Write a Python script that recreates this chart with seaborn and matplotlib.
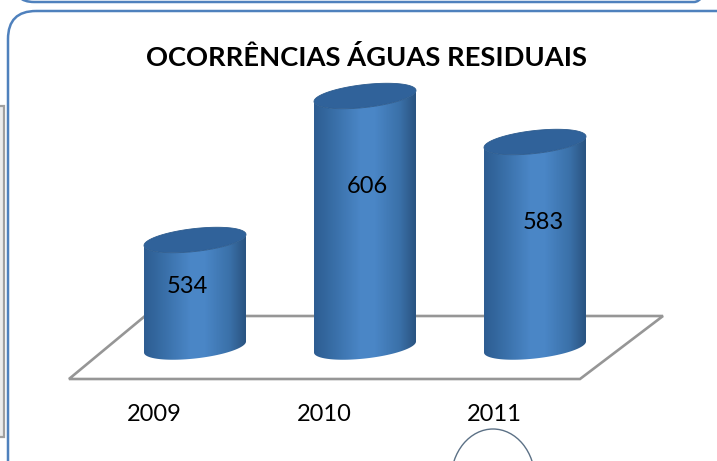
import matplotlib
matplotlib.use('Agg')
import matplotlib.pyplot as plt
import seaborn as sns
import numpy as np
import pandas as pd
from matplotlib.colors import LinearSegmentedColormap
from matplotlib.patches import Ellipse, FancyBboxPatch, PathPatch, Polygon, Rectangle
from matplotlib.path import Path

# Values
years = ['2009', '2010', '2011']
values = [534, 606, 583]
title = 'OCORRÊNCIAS ÁGUAS RESIDUAIS'

# Label offsets from each bar top, in pixels
value_dx = [-8, 2, 8]
value_dy = [-47, -91, -81]

sns.set_theme(style='white')
plt.rcParams['font.family'] = ['Lato', 'DejaVu Sans']

W, H = 717, 461
BASE_PX = 347
HALF_W, TILT, MINOR = 51, 5.5, 11.5
FRAME = '#4f81bd'

df = pd.DataFrame({'year': years, 'value': values})

fig = plt.figure(figsize=(W / 100, H / 100), dpi=100, facecolor='white')
ax = fig.add_axes([0, 0, 1, 1])
sns.barplot(x='year', y='value', data=df, color='#3f76b0', width=0.6, saturation=1, ax=ax)

# Scale chosen so that the categories and values land where the reference has them
px_per_cat, px_per_val = 170, 2.0
ax.set_xlim(-195 / px_per_cat, (W - 195) / px_per_cat)
ax.set_ylim(534 - (H - 240) / px_per_val, 534 + 240 / px_per_val)
ax.axis('off')

# Pixel-space layer for the frame, the floor and the cylinder shading
deco = fig.add_axes([0, 0, 1, 1], facecolor='none')
deco.set_xlim(0, W)
deco.set_ylim(H, 0)
deco.axis('off')

# Panel frames
deco.add_patch(FancyBboxPatch((36, 39), 717, 459 - 28, boxstyle='round,pad=28,rounding_size=28',
                              fc='none', ec=FRAME, lw=1.8))
deco.add_patch(FancyBboxPatch((34, -100), 660, 82, boxstyle='round,pad=20,rounding_size=20',
                              fc='none', ec=FRAME, lw=1.8))
deco.add_patch(Rectangle((-10, 106), 14, 331, fc='#ececec', ec='#a0a0a0', lw=1.6))
deco.add_patch(Ellipse((493, 480), 84, 102, fc='none', ec='#5c7186', lw=1))

# Floor
deco.add_patch(Polygon([(69, 379), (580, 379), (663, 316), (145, 316)], closed=True,
                       fc='white', ec='#969696', lw=1.9))

shade = LinearSegmentedColormap.from_list('cyl', [
    (0, '#2e5d92'), (0.12, '#34689f'), (0.45, '#4a86c6'), (0.6, '#4a86c6'),
    (0.85, '#3a70a8'), (1, '#2a5482')])
t = np.linspace(0, 2 * np.pi, 120)

for i, bar in enumerate(ax.patches[:len(values)]):
    cx_disp, top_disp = ax.transData.transform((bar.get_x() + bar.get_width() / 2, bar.get_height()))
    cx, top = cx_disp, H - top_disp

    # front edge of the base, then back up along the sheared side
    s = np.linspace(np.pi, 0, 60)
    low = np.c_[cx + HALF_W * np.cos(s), BASE_PX + MINOR * np.sin(s) - TILT * np.cos(s)]
    up = np.c_[cx + HALF_W * np.cos(s[::-1]), top + MINOR * np.sin(s[::-1]) - TILT * np.cos(s[::-1])]
    body = np.vstack([low, up, low[:1]])
    clip = PathPatch(Path(body), fc='none', ec='none', transform=deco.transData)
    deco.add_patch(clip)
    bar.set_clip_path(clip)

    img = deco.imshow(np.linspace(0, 1, 102)[None, :], cmap=shade, aspect='auto', zorder=3,
                      extent=(cx - HALF_W, cx + HALF_W, BASE_PX + 16, top - 16))
    img.set_clip_path(clip)

    deco.add_patch(Polygon(np.c_[cx + HALF_W * np.cos(t), top + MINOR * np.sin(t) - TILT * np.cos(t)],
                           closed=True, fc='#30629a', ec='#2c5b8e', lw=0.6, zorder=4))

    ax.annotate(str(values[i]), xy=(i, values[i]), xytext=(value_dx[i], value_dy[i]),
                textcoords='offset pixels', ha='center', va='center', fontsize=17, color='black',
                annotation_clip=False, zorder=10)
    deco.text(cx - 41, 414, years[i], ha='center', va='center', fontsize=17, color='black', zorder=10)

deco.set_xlim(0, W)
deco.set_ylim(H, 0)

deco.text(366, 58, title, ha='center', va='center', fontsize=19.7, fontweight='bold', color='black', zorder=10)

# annotations belong to the lower axes, so keep that layer's text above the shading
ax.set_zorder(deco.get_zorder() + 1)
ax.patch.set_alpha(0)
for bar in ax.patches:
    bar.set_visible(False)

fig.savefig('out.png', dpi=100)
